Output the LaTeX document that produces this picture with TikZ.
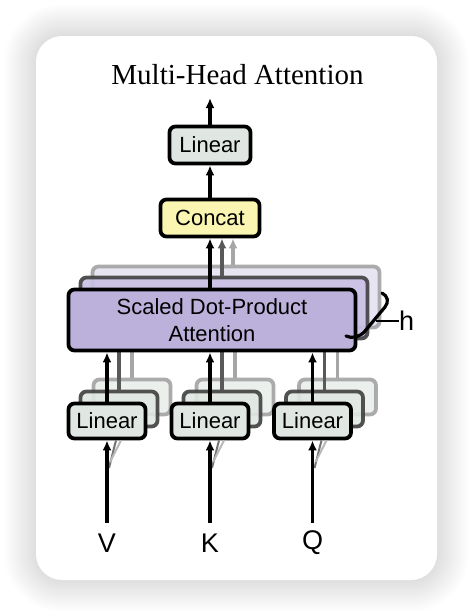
\documentclass[tikz,border=0pt]{standalone}
\usepackage{fontspec}
\setmainfont{Liberation Serif}
\newfontfamily\hv{Liberation Sans}
\usetikzlibrary{arrows.meta}
\definecolor{linfill}{RGB}{224,231,227}
\definecolor{catfill}{RGB}{250,245,176}
\definecolor{sdpfill}{RGB}{188,177,219}
\definecolor{sdpfillB}{RGB}{200,191,228}
\definecolor{sdpfillC}{RGB}{229,225,242}
\tikzset{
  box/.style={draw=black, line width=3.8pt, rounded corners=6pt, inner sep=0pt,
    font=\hv\fontsize{22}{26}\selectfont},
  linbox/.style={box, fill=linfill, minimum width=77pt, minimum height=35pt},
  copyB/.style={draw=black!75, opacity=0.9},
  copyC/.style={draw=black!38, opacity=0.85},
  arr/.style={line width=3.2pt, -{Latex[length=10pt,width=9pt]}},
  garrB/.style={line width=3.2pt, draw=black!65},
  garrC/.style={line width=3.2pt, draw=black!35},
  lbl/.style={font=\hv\fontsize{27}{30}\selectfont, inner sep=0pt}
}
\begin{document}
\begin{tikzpicture}[x=1pt, y=-1pt]
\useasboundingbox (0,0) rectangle (474,616);
% card shadow
\foreach \i in {1,...,32}{
  \pgfmathsetmacro\rr{26+\i}
  \fill[black, opacity=0.0035, rounded corners=\rr pt] (36-\i,36-\i) rectangle (437+\i,580+\i);
}
\fill[white, rounded corners=26pt] (36,36) rectangle (437,580);

% title
\node[anchor=base, font=\fontsize{29}{33}\selectfont, inner sep=0pt] (title) at (237.5,84) {Multi-Head Attention};

% SDPA copies
\node[box, copyC, fill=sdpfillC, minimum width=287pt, minimum height=61pt] (sdpC) at (236,297) {};
\node[box, copyB, fill=sdpfillB, minimum width=287pt, minimum height=61pt] (sdpB) at (224,308) {};

% linear copies
\foreach \n/\x in {v/107,k/210,q/312.5}{
  \node[linbox, copyC, fill=linfill!70!white] (\n C) at (\x+25,421-24) {};
  \node[linbox, copyB] (\n B) at (\x+12,421-12) {};
}

% gray lines from linear copies to SDPA
\foreach \n in {v,k,q}{
  \draw[garrC] (\n C.north) -- (\n C.north |- sdpB.south);
  \draw[garrB] (\n B.north) -- (\n B.north |- sdpB.south);
}

% front boxes
\node[box, fill=sdpfill, minimum width=287pt, minimum height=61pt, align=center] (sdp) at (212,320) {Scaled Dot-Product\\[1pt]Attention};
\node[box, fill=catfill, minimum width=99pt, minimum height=37pt] (concat) at (210,218) {Concat};
\node[box, fill=linfill, minimum width=81pt, minimum height=37pt] (lintop) at (210,145) {Linear};
\node[linbox] (linv) at (107,421) {Linear};
\node[linbox] (link) at (210,421) {Linear};
\node[linbox] (linq) at (312.5,421) {Linear};

% gray arrows into concat
\draw[garrC, -{Latex[length=10pt,width=9pt]}] ([xshift=23pt]concat.south |- sdpC.north) -- ([xshift=23pt]concat.south);
\draw[garrB, -{Latex[length=10pt,width=9pt]}] ([xshift=12pt]concat.south |- sdpB.north) -- ([xshift=12pt]concat.south);

% black arrows
\draw[arr] (concat.south |- sdp.north) -- (concat.south);
\draw[arr] (concat.north) -- (lintop.south);
\coordinate (out) at (210,98);
\draw[arr] (lintop.north) -- (out);
\draw[arr] (linv.north) -- (linv.north |- sdp.south);
\draw[arr] (link.north) -- (link.north |- sdp.south);
\draw[arr] (linq.north) -- (linq.north |- sdp.south);

% inputs
\node[lbl] (V) at (107,543) {V};
\node[lbl] (K) at (210,543) {K};
\node[lbl] (Q) at (312.5,543) {Q};
\foreach \n/\m in {V/linv,K/link,Q/linq}{
  \coordinate (\n s) at (\m.south |- 0,523);
  \draw[line width=2pt, black!55] ([xshift=2pt,yshift=55pt]\n s) -- ([xshift=9pt]\m.south);
  \draw[line width=2pt, black!28] ([xshift=3pt,yshift=61pt]\n s) -- ([xshift=14pt]\m.south);
  \draw[arr] (\n s) -- (\m.south);
}

% h brace
\coordinate (bt) at (382,293);
\coordinate (bb) at (346,336);
\draw[line width=3.2pt, line cap=round] (bt) .. controls (388,296) and (389,302) .. (385,307)
  -- (365,331) .. controls (360,337) and (352,339) .. (bb);
\node[lbl, anchor=base west] (h) at (399,330) {h};
\draw[line width=2pt] (376,321) -- (h.west |- 0,321);
\end{tikzpicture}
\end{document}
